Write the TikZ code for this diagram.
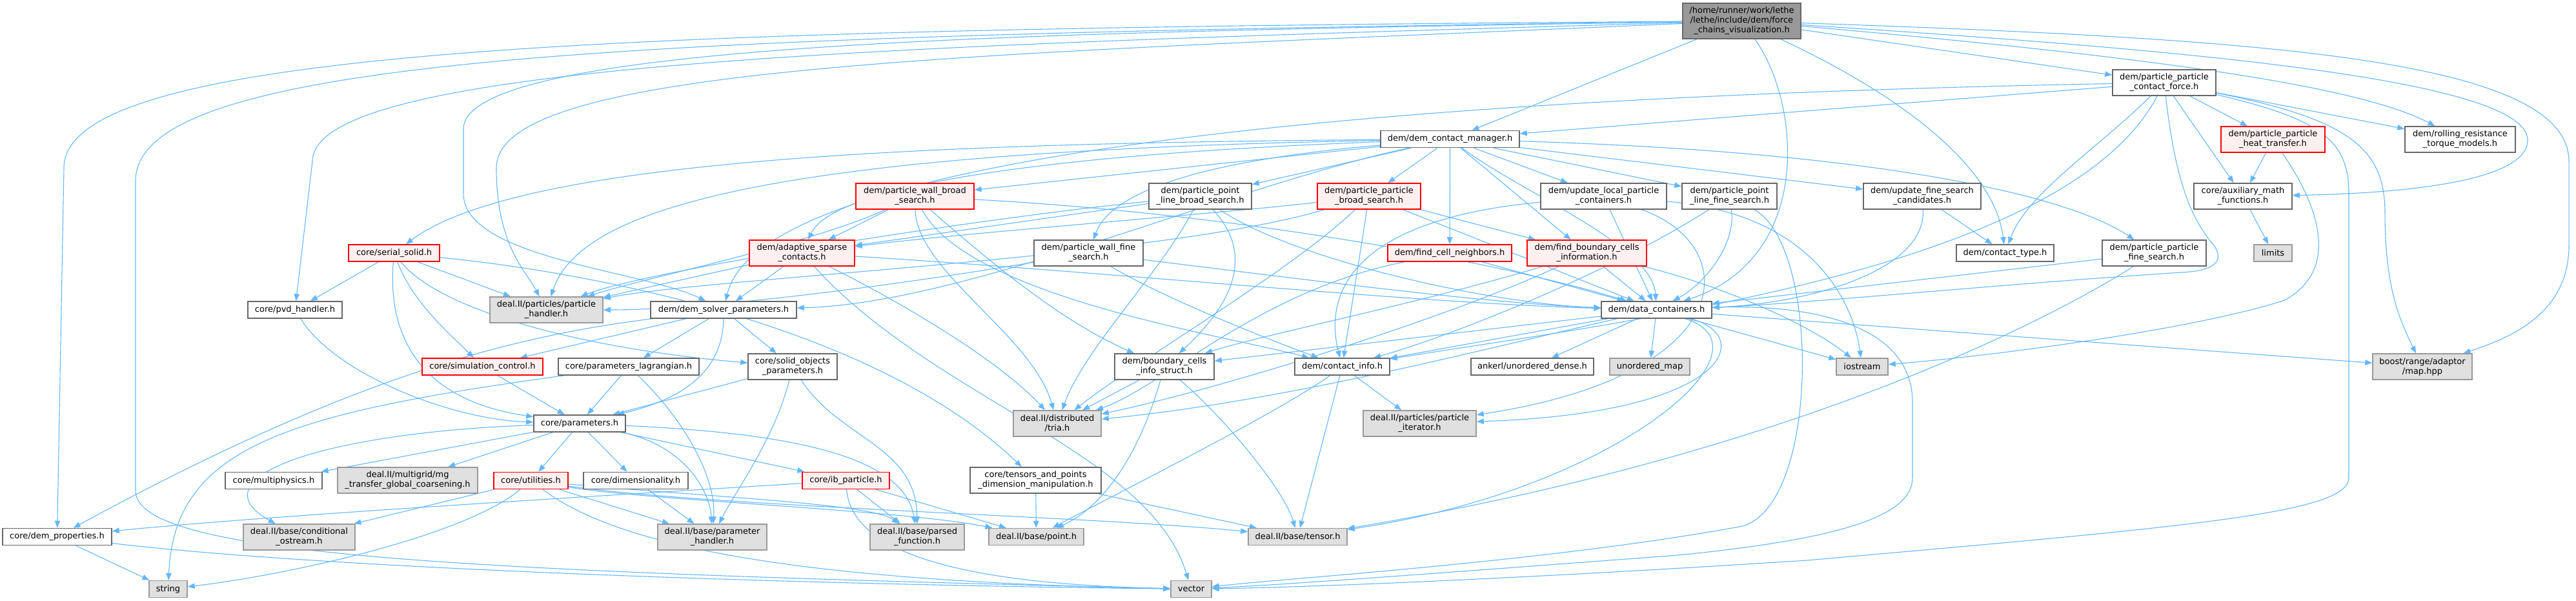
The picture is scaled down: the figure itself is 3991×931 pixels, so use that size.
\documentclass[tikz,border=0pt]{standalone}
\usepackage{fontspec}
\setmainfont{DejaVu Sans}
\usetikzlibrary{arrows.meta,backgrounds}
\definecolor{edgec}{HTML}{63B8FF}
\definecolor{bordw}{HTML}{666666}
\definecolor{bordg}{HTML}{999999}
\definecolor{fillg}{HTML}{E0E0E0}
\definecolor{fillr}{HTML}{FFF0F0}
\definecolor{fillroot}{HTML}{999999}
\newcommand\dxfont{\fontsize{13}{15}\selectfont}
\tikzset{
  base/.style={rectangle, line width=1.5pt, inner sep=0pt, align=center, font=\dxfont, text=black},
  wn/.style={base, draw=bordw, fill=white},
  gn/.style={base, draw=bordg, fill=fillg},
  rn/.style={base, draw=red, fill=fillr},
  rootn/.style={base, draw=bordw, fill=fillroot},
  e/.style={draw=edgec, line width=1.1pt, -{Triangle[length=11pt,width=8.5pt]}}
}
\begin{document}
\begin{tikzpicture}[x=1pt,y=-1pt]
\useasboundingbox (0,0) rectangle (3991,931);
% rank 0
\node[rootn, minimum width=183pt, minimum height=55pt] (root) at (2698.5,32.5) {/home/runner/work/lethe\\/lethe/include/dem/force\\\_chains\_visualization.h};
% rank 1
\node[wn, minimum width=160pt, minimum height=40pt] (ppcf) at (3353,128) {dem/particle\_particle\\\_contact\_force.h};
% rank 2
\node[wn, minimum width=215pt, minimum height=26pt] (dcm) at (2246.5,215.5) {dem/dem\_contact\_manager.h};
\node[rn, minimum width=161pt, minimum height=40pt] (ppht) at (3521.5,216) {dem/particle\_particle\\\_heat\_transfer.h};
\node[wn, minimum width=171pt, minimum height=40pt] (rr) at (3811.5,216) {dem/rolling\_resistance\\\_torque\_models.h};
% rank 3
\node[rn, minimum width=183pt, minimum height=40pt] (pwbs) at (1417.5,304) {dem/particle\_wall\_broad\\\_search.h};
\node[wn, minimum width=159pt, minimum height=40pt] (ppls) at (1859.5,304) {dem/particle\_point\\\_line\_broad\_search.h};
\node[rn, minimum width=160pt, minimum height=40pt] (ppbs) at (2121,304) {dem/particle\_particle\\\_broad\_search.h};
\node[wn, minimum width=195pt, minimum height=40pt] (ulpc) at (2484.5,304) {dem/update\_local\_particle\\\_containers.h};
\node[wn, minimum width=147pt, minimum height=40pt] (pplfs) at (2679.5,304) {dem/particle\_point\\\_line\_fine\_search.h};
\node[wn, minimum width=182pt, minimum height=40pt] (ufsc) at (2978,304) {dem/update\_fine\_search\\\_candidates.h};
\node[wn, minimum width=152pt, minimum height=40pt] (aux) at (3475,304) {core/auxiliary\_math\\\_functions.h};
% rank 4
\node[rn, minimum width=141pt, minimum height=26pt] (serial) at (610.5,392) {core/serial\_solid.h};
\node[rn, minimum width=163pt, minimum height=40pt] (asc) at (1242.5,392) {dem/adaptive\_sparse\\\_contacts.h};
\node[wn, minimum width=169pt, minimum height=40pt] (pwfs) at (1686.5,392) {dem/particle\_wall\_fine\\\_search.h};
\node[rn, minimum width=192pt, minimum height=26pt] (fcn) at (2246,392) {dem/find\_cell\_neighbors.h};
\node[rn, minimum width=185pt, minimum height=40pt] (fbci) at (2458.5,392) {dem/find\_boundary\_cells\\\_information.h};
\node[wn, minimum width=151pt, minimum height=26pt] (ctype) at (3106.5,392) {dem/contact\_type.h};
\node[wn, minimum width=161pt, minimum height=40pt] (ppfs) at (3337.5,392) {dem/particle\_particle\\\_fine\_search.h};
\node[gn, minimum width=59pt, minimum height=26pt] (limits) at (3521.5,392) {limits};
% rank 5
\node[wn, minimum width=146pt, minimum height=26pt] (pvd) at (457,480) {core/pvd\_handler.h};
\node[gn, minimum width=175pt, minimum height=40pt] (pah) at (846.5,480) {deal.II/particles/particle\\\_handler.h};
\node[wn, minimum width=226pt, minimum height=26pt] (dsp) at (1121,480) {dem/dem\_solver\_parameters.h};
\node[wn, minimum width=171pt, minimum height=26pt] (dc) at (2566.5,480) {dem/data\_containers.h};
% rank 6
\node[rn, minimum width=187pt, minimum height=26pt] (simctl) at (747.5,568) {core/simulation\_control.h};
\node[wn, minimum width=218pt, minimum height=26pt] (plag) at (974,568) {core/parameters\_lagrangian.h};
\node[wn, minimum width=138pt, minimum height=40pt] (sop) at (1228,568) {core/solid\_objects\\\_parameters.h};
\node[wn, minimum width=154pt, minimum height=40pt] (bcis) at (1804,568) {dem/boundary\_cells\\\_info\_struct.h};
\node[wn, minimum width=147pt, minimum height=26pt] (cinfo) at (2079.5,568) {dem/contact\_info.h};
\node[wn, minimum width=190pt, minimum height=26pt] (ankerl) at (2374,568) {ankerl/unordered\_dense.h};
\node[gn, minimum width=124pt, minimum height=26pt] (umap) at (2556,568) {unordered\_map};
\node[gn, minimum width=80pt, minimum height=26pt] (iostream) at (2885,568) {iostream};
\node[gn, minimum width=154pt, minimum height=40pt] (boost) at (3753,568) {boost/range/adaptor\\/map.hpp};
% rank 7
\node[wn, minimum width=142pt, minimum height=26pt] (params) at (898,656) {core/parameters.h};
\node[gn, minimum width=136pt, minimum height=40pt] (tria) at (1638,656) {deal.II/distributed\\/tria.h};
\node[gn, minimum width=175pt, minimum height=40pt] (pit) at (2199.5,656) {deal.II/particles/particle\\\_iterator.h};
% rank 8
\node[wn, minimum width=150pt, minimum height=26pt] (mphys) at (424,744.5) {core/multiphysics.h};
\node[gn, minimum width=217pt, minimum height=40pt] (mg) at (631.5,744) {deal.II/multigrid/mg\\\_transfer\_global\_coarsening.h};
\node[rn, minimum width=115pt, minimum height=26pt] (util) at (822.5,744.5) {core/utilities.h};
\node[wn, minimum width=162pt, minimum height=26pt] (dim) at (985,744.5) {core/dimensionality.h};
\node[rn, minimum width=135pt, minimum height=26pt] (ibp) at (1310.5,744.5) {core/ib\_particle.h};
\node[wn, minimum width=203pt, minimum height=40pt] (tpdm) at (1604.5,744) {core/tensors\_and\_points\\\_dimension\_manipulation.h};
% rank 9
\node[wn, minimum width=169pt, minimum height=26pt] (demprop) at (88.5,831.5) {core/dem\_properties.h};
\node[gn, minimum width=173pt, minimum height=40pt] (condos) at (463.5,832) {deal.II/base/conditional\\\_ostream.h};
\node[gn, minimum width=169pt, minimum height=40pt] (parh) at (1103.5,832) {deal.II/base/parameter\\\_handler.h};
\node[gn, minimum width=146pt, minimum height=40pt] (pf) at (1421,832) {deal.II/base/parsed\\\_function.h};
\node[gn, minimum width=147pt, minimum height=26pt] (point) at (1605.5,831.5) {deal.II/base/point.h};
\node[gn, minimum width=153pt, minimum height=26pt] (tensor) at (2010.5,831.5) {deal.II/base/tensor.h};
% rank 10
\node[gn, minimum width=59pt, minimum height=26pt] (string) at (260.5,912.5) {string};
\node[gn, minimum width=63pt, minimum height=26pt] (vector) at (1845.5,912.5) {vector};

\begin{pgfonlayer}{background}
\fill[white] (0,0) rectangle (3991,931);
% root
\draw[e] (root) .. controls (1000,45) and (99,70) .. (99,260) -- (demprop);
\draw[e] (root) .. controls (1000,55) and (210,85) .. (210,280) -- (210,760) .. controls (210,860) and (700,885) .. (vector);
\draw[e] (root) .. controls (1400,70) and (484,95) .. (484,250) -- (pvd);
\draw[e] (root) .. controls (1500,85) and (769,100) .. (769,260) .. controls (769,380) and (815,420) .. (pah);
\draw[e] (root) .. controls (1600,50) and (718,65) .. (718,200) -- (718,300) .. controls (718,400) and (1000,420) .. (dsp);
\draw[e] (root) -- (dcm);
\draw[e] (root) -- (ppcf);
\draw[e] (root) .. controls (2950,150) and (3090,260) .. (ctype);
\draw[e] (root) .. controls (2790,160) and (2810,400) .. (dc);
\draw[e] (root) .. controls (3300,85) and (3650,130) .. (rr);
\draw[e] (root) .. controls (3350,75) and (3916,120) .. (3916,217) .. controls (3916,285) and (3700,300) .. (aux);
\draw[e] (root) .. controls (3500,60) and (3980,90) .. (3980,250) -- (3980,380) .. controls (3980,480) and (3900,520) .. (boost);
% dcm
\draw[e] (dcm) .. controls (1400,222) and (800,250) .. (serial);
\draw[e] (dcm) .. controls (1200,235) and (900,320) .. (pah);
\draw[e] (dcm) .. controls (1900,290) and (1500,470) .. (dsp);
\draw[e] (dcm) -- (pwbs);
\draw[e] (dcm) -- (ppls);
\draw[e] (dcm) .. controls (1850,250) and (1720,300) .. (pwfs);
\draw[e] (dcm) .. controls (1600,240) and (1290,290) .. (asc);
\draw[e] (dcm) -- (ppbs);
\draw[e] (dcm) -- (fcn);
\draw[e] (dcm) -- (fbci);
\draw[e] (dcm) -- (ulpc);
\draw[e] (dcm) -- (pplfs);
\draw[e] (dcm) -- (ufsc);
\draw[e] (dcm) .. controls (2900,235) and (3200,300) .. (ppfs);
\draw[e] (dcm) .. controls (2360,300) and (2560,380) .. (dc);
% ppcf
\draw[e] (ppcf) .. controls (2200,150) and (1180,230) .. (dsp);
\draw[e] (ppcf) -- (dcm);
\draw[e] (ppcf) .. controls (3250,230) and (3140,300) .. (ctype);
\draw[e] (ppcf) .. controls (3370,280) and (3395,340) .. (3430,380) .. controls (3450,410) and (3420,420) .. (3380,422) .. controls (3100,440) and (2800,470) .. (dc);
\draw[e] (ppcf) .. controls (3200,420) and (2500,500) .. (cinfo);
\draw[e] (ppcf) -- (ppht);
\draw[e] (ppcf) -- (aux);
\draw[e] (ppcf) -- (rr);
\draw[e] (ppcf) .. controls (3640,185) and (3695,230) .. (3695,330) .. controls (3695,450) and (3720,500) .. (boost);
\draw[e] (ppcf) .. controls (3600,185) and (3639,220) .. (3639,300) -- (3639,740) .. controls (3639,795) and (3400,815) .. (2800,868) .. controls (2300,900) and (2000,910) .. (vector);
% ppht, aux
\draw[e] (ppht) -- (aux);
\draw[e] (ppht) .. controls (3600,330) and (3620,420) .. (3540,465) .. controls (3400,510) and (3100,550) .. (iostream);
\draw[e] (aux) -- (limits);
% ufsc, ppfs, pplfs
\draw[e] (ufsc) -- (ctype);
\draw[e] (ufsc) .. controls (2985,420) and (2800,470) .. (dc);
\draw[e] (ppfs) -- (dc);
\draw[e] (ppfs) .. controls (3200,480) and (2800,700) .. (tensor);
\draw[e] (pplfs) .. controls (2690,380) and (2640,440) .. (dc);
\draw[e] (pplfs) .. controls (2500,420) and (2250,520) .. (cinfo);
\draw[e] (pplfs) .. controls (2820,380) and (2820,780) .. (2700,815) .. controls (2400,870) and (2000,895) .. (vector);
% ulpc
\draw[e] (ulpc) -- (dc);
\draw[e] (ulpc) .. controls (2700,380) and (2700,580) .. (pit);
\draw[e] (ulpc) .. controls (2100,340) and (2050,450) .. (cinfo);
\draw[e] (ulpc) .. controls (2800,330) and (2870,460) .. (iostream);
% fbci, fcn
\draw[e] (fbci) -- (dc);
\draw[e] (fbci) .. controls (2200,470) and (1950,520) .. (bcis);
\draw[e] (fbci) .. controls (2250,490) and (1900,600) .. (tria);
\draw[e] (fbci) .. controls (2660,440) and (2800,500) .. (iostream);
\draw[e] (fcn) -- (dc);
\draw[e] (fcn) .. controls (1950,450) and (1800,600) .. (tria);
% ppbs
\draw[e] (ppbs) .. controls (1900,330) and (1500,360) .. (asc);
\draw[e] (ppbs) -- (dc);
\draw[e] (ppbs) -- (cinfo);
\draw[e] (ppbs) .. controls (1800,400) and (1100,430) .. (pah);
\draw[e] (ppbs) .. controls (2000,420) and (1760,560) .. (tria);
\draw[e] (ppbs) -- (fbci);
% pwbs
\draw[e] (pwbs) -- (asc);
\draw[e] (pwbs) .. controls (1900,330) and (2300,400) .. (dc);
\draw[e] (pwbs) .. controls (1550,420) and (1650,500) .. (bcis);
\draw[e] (pwbs) .. controls (1250,380) and (1000,430) .. (pah);
\draw[e] (pwbs) .. controls (1420,420) and (1600,520) .. (tria);
\draw[e] (pwbs) .. controls (1500,460) and (1900,520) .. (cinfo);
% ppls
\draw[e] (ppls) .. controls (2000,400) and (2300,470) .. (dc);
\draw[e] (ppls) .. controls (1500,340) and (1000,420) .. (pah);
\draw[e] (ppls) .. controls (1800,420) and (1680,540) .. (tria);
\draw[e] (ppls) .. controls (1950,400) and (1900,480) .. (bcis);
\draw[e] (ppls) -- (asc);
% pwfs
\draw[e] (pwfs) .. controls (2000,430) and (2300,470) .. (dc);
\draw[e] (pwfs) .. controls (1400,440) and (1100,480) .. (pah);
\draw[e] (pwfs) .. controls (1800,460) and (1950,520) .. (cinfo);
% asc
\draw[e] (asc) -- (pah);
\draw[e] (asc) -- (dsp);
\draw[e] (asc) .. controls (1700,420) and (2200,470) .. (dc);
\draw[e] (asc) .. controls (1400,470) and (1550,560) .. (tria);
\draw[e] (asc) .. controls (1450,620) and (1780,700) .. (vector);
% dc
\draw[e] (dc) -- (cinfo);
\draw[e] (dc) -- (ankerl);
\draw[e] (dc) -- (umap);
\draw[e] (dc) .. controls (2720,520) and (2680,640) .. (pit);
\draw[e] (dc) .. controls (2760,540) and (2500,760) .. (tensor);
\draw[e] (dc) -- (boost);
\draw[e] (dc) -- (iostream);
\draw[e] (dc) .. controls (2800,470) and (2960,500) .. (2963,620) -- (2963,740) .. controls (2963,800) and (2850,835) .. (2600,860) .. controls (2200,890) and (2000,905) .. (vector);
\draw[e] (dc) .. controls (2300,540) and (2000,620) .. (tria);
\draw[e] (dc) -- (bcis);
% cinfo, bcis, tpdm
\draw[e] (cinfo) -- (pit);
\draw[e] (cinfo) -- (tensor);
\draw[e] (cinfo) .. controls (1980,640) and (1700,780) .. (point);
\draw[e] (bcis) -- (tria);
\draw[e] (bcis) .. controls (1760,720) and (1700,790) .. (point);
\draw[e] (bcis) .. controls (1900,650) and (1990,760) .. (tensor);
\draw[e] (tpdm) -- (point);
\draw[e] (tpdm) -- (tensor);
% serial, pvd
\draw[e] (serial) -- (pvd);
\draw[e] (serial) .. controls (600,520) and (650,620) .. (params);
\draw[e] (serial) .. controls (640,470) and (700,520) .. (simctl);
\draw[e] (serial) .. controls (680,480) and (900,540) .. (sop);
\draw[e] (serial) -- (pah);
\draw[e] (serial) .. controls (900,420) and (1350,500) .. (tpdm);
\draw[e] (pvd) .. controls (520,580) and (700,650) .. (params);
% dsp
\draw[e] (dsp) -- (simctl);
\draw[e] (dsp) -- (plag);
\draw[e] (dsp) .. controls (1120,580) and (1050,620) .. (params);
\draw[e] (dsp) -- (sop);
\draw[e] (dsp) .. controls (800,520) and (550,580) .. (demprop);
% simctl, plag, sop
\draw[e] (simctl) -- (params);
\draw[e] (plag) -- (params);
\draw[e] (plag) .. controls (1060,650) and (1110,740) .. (parh);
\draw[e] (plag) .. controls (450,640) and (270,690) .. (string);
\draw[e] (sop) -- (params);
\draw[e] (sop) .. controls (1200,680) and (1140,760) .. (parh);
\draw[e] (sop) .. controls (1300,680) and (1420,690) .. (pf);
% params
\draw[e] (params) .. controls (500,670) and (300,740) .. (condos);
\draw[e] (params) -- (mphys);
\draw[e] (params) -- (mg);
\draw[e] (params) -- (util);
\draw[e] (params) -- (dim);
\draw[e] (params) -- (ibp);
\draw[e] (params) .. controls (1060,690) and (1100,760) .. (parh);
\draw[e] (params) .. controls (1200,670) and (1400,700) .. (pf);
% util
\draw[e] (util) -- (condos);
\draw[e] (util) .. controls (720,830) and (450,890) .. (string);
\draw[e] (util) -- (parh);
\draw[e] (util) .. controls (1100,770) and (1350,780) .. (pf);
\draw[e] (util) .. controls (1000,775) and (1400,790) .. (point);
\draw[e] (util) .. controls (1100,785) and (1700,800) .. (tensor);
\draw[e] (util) .. controls (950,840) and (1200,900) .. (vector);
% dim, ibp, demprop
\draw[e] (dim) -- (parh);
\draw[e] (ibp) .. controls (900,770) and (400,800) .. (demprop);
\draw[e] (ibp) -- (point);
\draw[e] (ibp) -- (pf);
\draw[e] (ibp) .. controls (1320,860) and (1500,905) .. (vector);
\draw[e] (demprop) -- (string);
\draw[e] (demprop) .. controls (500,880) and (1200,905) .. (vector);
\end{pgfonlayer}
\end{tikzpicture}
\end{document}
